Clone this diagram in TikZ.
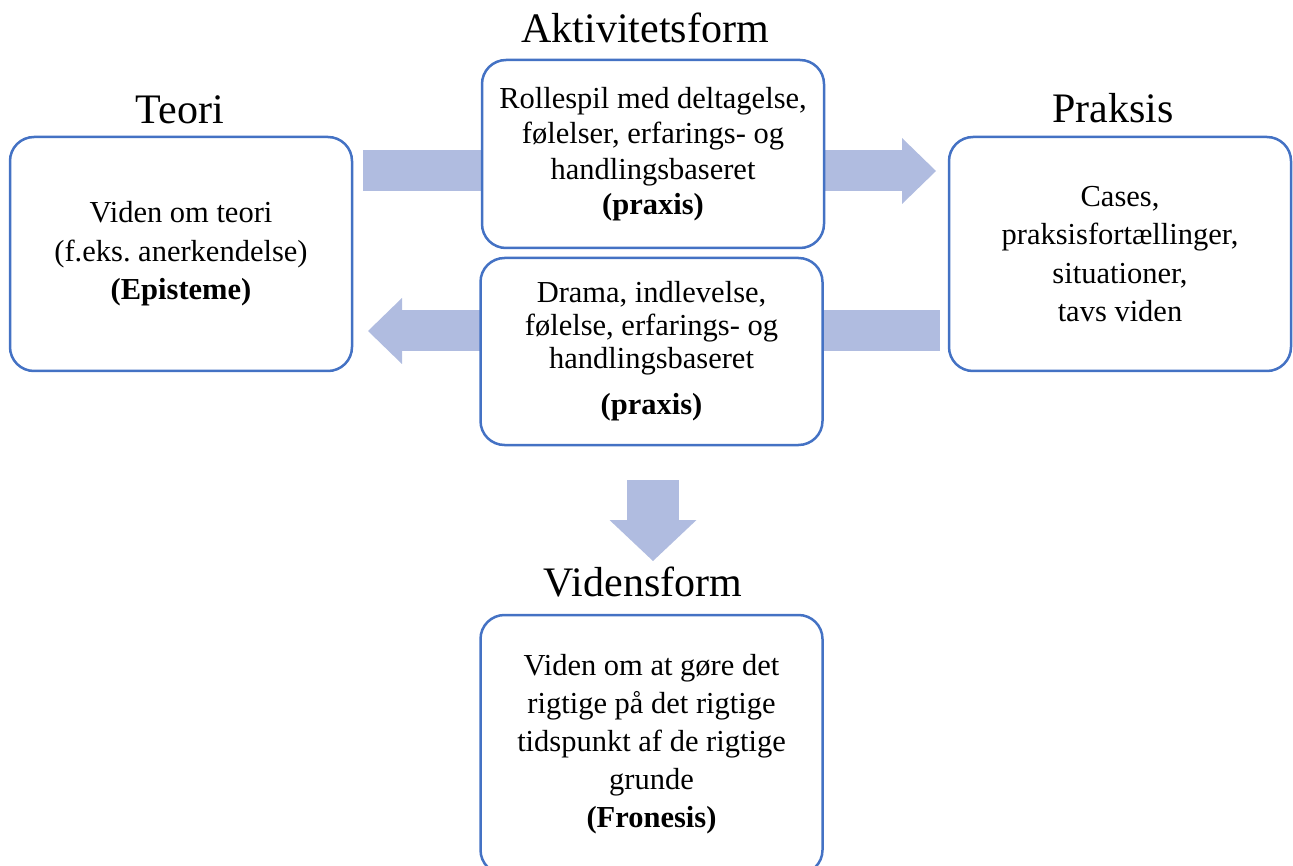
\documentclass[tikz,border=0pt]{standalone}
\usepackage{fontspec}
\setmainfont{Liberation Serif}
\usetikzlibrary{arrows.meta}

\definecolor{boxblue}{RGB}{68,114,196}
\definecolor{arrowblue}{RGB}{176,188,224}

\tikzset{
  box/.style={draw=boxblue, line width=2.5pt, rounded corners=24pt, fill=white,
    align=center, inner sep=0pt, minimum width=342pt},
  title/.style={anchor=base, inner sep=0pt, font=\fontsize{42}{50}\selectfont},
  blockarrow/.style={draw=arrowblue, line width=41pt,
    -{Triangle[length=34pt,width=66pt,line width=0pt]}},
}

\begin{document}
\begin{tikzpicture}[x=1pt,y=-1pt]
  \useasboundingbox (0,0) rectangle (1293,866);
  % arrow ends
  \coordinate (toright) at (363,171);
  \coordinate (toright end) at (936,171);
  \coordinate (toleft) at (940,331);
  \coordinate (toleft end) at (368,331);
  \coordinate (todown) at (653,480);
  \coordinate (todown end) at (653,561);
  \draw[blockarrow] (toright) -- (toright end);
  \draw[blockarrow] (toleft) -- (toleft end);
  \draw[blockarrow, line width=52pt,
    -{Triangle[length=41pt,width=87pt,line width=0pt]}] (todown) -- (todown end);
  % boxes
  \node[box, minimum height=234pt, font=\fontsize{30.5}{38.5}\selectfont]
    (teori) at (181,254) {Viden om teori\\(f.eks.\ anerkendelse)\\\textbf{(Episteme)}};
  \node[box, minimum height=188pt, font=\fontsize{30.5}{35.5}\selectfont]
    (rollespil) at (653,154) {Rollespil med deltagelse,\\følelser, erfarings- og\\handlingsbaseret\\\textbf{(praxis)}};
  \node[box, minimum height=187pt, font=\fontsize{30.5}{33}\selectfont]
    (drama) at (651.5,351.5) {Drama, indlevelse,\\følelse, erfarings- og\\handlingsbaseret\\[13pt]\textbf{(praxis)}};
  \node[box, minimum height=234pt, font=\fontsize{30.5}{38.5}\selectfont]
    (praksis) at (1120,254) {Cases,\\praksisfortællinger,\\situationer,\\tavs viden};
  \node[box, minimum height=259pt, font=\fontsize{30.5}{38}\selectfont]
    (fronesis) at (651.5,744.5) {Viden om at gøre det\\rigtige på det rigtige\\tidspunkt af de rigtige\\grunde\\\textbf{(Fronesis)}};
  % titles
  \node[title] (teori title) at (180,124) {Teori};
  \node[title] (aktivitet title) at (645,43) {Aktivitetsform};
  \node[title] (praksis title) at (1113,123) {Praksis};
  \node[title] (videns title) at (643,596) {Vidensform};
\end{tikzpicture}
\end{document}
